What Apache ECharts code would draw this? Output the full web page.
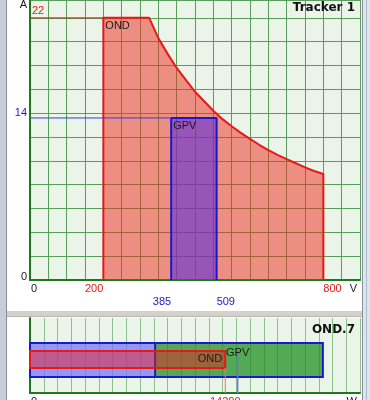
<!DOCTYPE html>
<html><head><meta charset="utf-8">
<script src="https://cdn.jsdelivr.net/npm/echarts@6/dist/echarts.min.js"></script>
<style>html,body{margin:0;padding:0;background:#fff}#c{width:370px;height:400px}</style>
</head><body><div id="c"></div>
<script>
// ---- Top chart: OND operating envelope (V, A) ----
const ondVoltage = [200, 200, 325, 350, 375, 400, 425, 450, 475, 500, 525, 550, 575, 600, 625, 650, 675, 700, 725, 750, 775, 800, 800];
const ondCurrent = [0, 22, 22, 20.3, 19.0, 17.8, 16.8, 15.8, 15.0, 14.2, 13.5, 12.9, 12.35, 11.85, 11.35, 10.9, 10.5, 10.15, 9.8, 9.45, 9.15, 8.9, 0];
// ---- GPV operating window (V, A) ----
const gpvVoltage = [385, 385, 509, 509];
const gpvCurrent = [0, 13.6, 13.6, 0];
// ---- tick labels ----
const xTickValues = [0, 200, 385, 509, 800];
const xTickLabels = ['0', '200', '385', '509', '800'];
const yTickValues = [0, 13.6, 22];
const yTickLabels = ['0', '14', '22'];
const xUnit = 'V';
const yUnit = 'A';
// ---- Bottom chart: power comparison (W) ----
const gpvPowerSplit = 9100;
const gpvPowerMax = 21300;
const ondPowerMax = 14200;
const gpvPowerNominal = 15100;
const powerTickValues = [0, 14200];
const powerTickLabels = ['0', '14200'];
const powerUnit = 'W';
const seriesNames = ['OND', 'GPV'];

// ---- styles ----
const RED = '#e81818', BLUE = '#1818d0', DARK = '#1a1a1a';
const FONT = 'Liberation Sans';
const xTickStyle = [
  {color: DARK, align: 'left', dx: 1, row: 0},
  {color: RED, align: 'right', dx: 0, row: 0},
  {color: BLUE, align: 'right', dx: 0, row: 1},
  {color: BLUE, align: 'left', dx: 0, row: 1},
  {color: RED, align: 'left', dx: 0, row: 0}
];
const yTickStyle = [
  {color: DARK, align: 'right', dx: -3, dy: 2},
  {color: BLUE, align: 'right', dx: -3, dy: 1},
  {color: RED, align: 'left', dx: 2, dy: -1}
];
const powerTickStyle = [
  {color: DARK, align: 'left', dx: 1},
  {color: RED, align: 'center', dx: 0}
];

function txt(x, y, s, color, align, va, size, weight) {
  return {type: 'text', x: x, y: y, style: {text: s, fill: color, align: align, verticalAlign: va,
    fontSize: size || 11, fontFamily: FONT, fontWeight: weight || 'normal'}};
}

const chart = echarts.init(document.getElementById('c'), null, {renderer: 'canvas'});
const axisGreen = '#1d7a1d';
const topMaxY = 23.5, topMaxX = 900, powerMaxX = 24000;

chart.setOption({
  animation: false,
  backgroundColor: '#ffffff',
  title: [
    {text: 'Tracker 1', right: 15, top: 2, padding: 0,
     textStyle: {fontFamily: 'DejaVu Sans', fontWeight: 'bold', fontSize: 12, color: '#111'}},
    {text: 'OND.7', right: 15, top: 324, padding: 0,
     textStyle: {fontFamily: 'DejaVu Sans', fontWeight: 'bold', fontSize: 12, color: '#111'}}
  ],
  graphic: [
    {type: 'rect', left: 0, top: 0, shape: {width: 6, height: 400}, style: {fill: '#c6ced8'}, silent: true},
    {type: 'rect', left: 6, top: 0, shape: {width: 1, height: 400}, style: {fill: '#858d96'}, silent: true},
    {type: 'rect', left: 362, top: 0, shape: {width: 8, height: 400}, style: {fill: '#dfe5ec'}, silent: true},
    {type: 'rect', left: 362, top: 0, shape: {width: 1, height: 400}, style: {fill: '#8a9098'}, silent: true},
    {type: 'rect', left: 366, top: 0, shape: {width: 1, height: 400}, style: {fill: '#a8bcd6'}, silent: true},
    {type: 'rect', left: 7, top: 311, shape: {width: 355, height: 5}, style: {fill: '#d4d1cc'}, silent: true},
    {type: 'rect', left: 7, top: 316, shape: {width: 355, height: 1}, style: {fill: '#b8b5b0'}, silent: true}
  ],
  grid: [
    {left: 30, top: 0, width: 330, height: 280, show: true, backgroundColor: '#ebf4e9', borderWidth: 0, outerBoundsMode: 'none'},
    {left: 30, top: 318, width: 330, height: 75, show: true, backgroundColor: '#ebf4e9', borderWidth: 0, outerBoundsMode: 'none'}
  ],
  xAxis: [
    {type: 'value', gridIndex: 0, min: 0, max: topMaxX, interval: 50,
     axisLine: {show: true, lineStyle: {color: axisGreen, width: 2}},
     axisTick: {show: false}, axisLabel: {show: false},
     splitLine: {show: true, lineStyle: {color: '#5a9c5a', width: 1}}},
    {type: 'value', gridIndex: 1, min: 0, max: powerMaxX, interval: 1000,
     axisLine: {show: true, lineStyle: {color: axisGreen, width: 2}},
     axisTick: {show: false}, axisLabel: {show: false},
     splitLine: {show: true, lineStyle: {color: '#8fbf8f', width: 1}}}
  ],
  yAxis: [
    {type: 'value', gridIndex: 0, min: 0, max: topMaxY, interval: 2,
     axisLine: {show: true, lineStyle: {color: axisGreen, width: 2}},
     axisTick: {show: false}, axisLabel: {show: false},
     splitLine: {show: true, lineStyle: {color: '#5a9c5a', width: 1}}},
    {type: 'value', gridIndex: 1, min: 0, max: 1,
     axisLine: {show: true, lineStyle: {color: axisGreen, width: 2}},
     axisTick: {show: false}, axisLabel: {show: false}, splitLine: {show: false}}
  ],
  series: [
    {name: seriesNames[0], type: 'line', xAxisIndex: 0, yAxisIndex: 0, symbol: 'none', z: 2,
     data: ondVoltage.map((v, i) => [v, ondCurrent[i]]),
     lineStyle: {color: RED, width: 2, join: 'round'}, areaStyle: {color: 'rgba(240,40,30,0.5)', opacity: 1}},
    {name: seriesNames[1], type: 'line', xAxisIndex: 0, yAxisIndex: 0, symbol: 'none', z: 3,
     data: gpvVoltage.map((v, i) => [v, gpvCurrent[i]]),
     lineStyle: {color: BLUE, width: 2}, areaStyle: {color: 'rgba(93,47,220,0.6)', opacity: 1}},
    {type: 'line', xAxisIndex: 0, yAxisIndex: 0, symbol: 'none', z: 3,
     data: [[0, Math.max(...ondCurrent)], [ondVoltage[0], Math.max(...ondCurrent)]],
     lineStyle: {color: RED, width: 1}},
    {type: 'line', xAxisIndex: 0, yAxisIndex: 0, symbol: 'none', z: 3,
     data: [[0, Math.max(...gpvCurrent)], [gpvVoltage[0], Math.max(...gpvCurrent)]],
     lineStyle: {color: '#3a3ae0', width: 1}},
    // top chart labels
    {type: 'custom', xAxisIndex: 0, yAxisIndex: 0, clip: false, silent: true, z: 10,
     data: [[0, 0]],
     renderItem: function (params, api) {
       const ch = [];
       xTickValues.forEach((v, i) => {
         const p = api.coord([v, 0]); const st = xTickStyle[i];
         ch.push(txt(p[0] + st.dx, p[1] + (st.row ? 16 : 3), xTickLabels[i], st.color, st.align, 'top'));
       });
       yTickValues.forEach((v, i) => {
         const p = api.coord([0, v]); const st = yTickStyle[i];
         ch.push(txt(p[0] + st.dx, p[1] + st.dy, yTickLabels[i], st.color, st.align, 'bottom'));
       });
       const pu = api.coord([topMaxX, 0]);
       ch.push(txt(pu[0] - 3, pu[1] + 3, xUnit, DARK, 'right', 'top'));
       const pa = api.coord([0, topMaxY]);
       ch.push(txt(pa[0] - 3, pa[1] - 1, yUnit, DARK, 'right', 'top'));
       const po = api.coord([ondVoltage[1], ondCurrent[1]]);
       ch.push(txt(po[0] + 2, po[1] + 3, seriesNames[0], DARK, 'left', 'top'));
       const pg = api.coord([gpvVoltage[1], gpvCurrent[1]]);
       ch.push(txt(pg[0] + 2, pg[1] + 3, seriesNames[1], DARK, 'left', 'top'));
       return {type: 'group', children: ch};
     }},
    // bottom power chart
    {type: 'custom', xAxisIndex: 1, yAxisIndex: 1, clip: false, silent: true, z: 5,
     data: [[0, 0]],
     renderItem: function (params, api) {
       const c = (x, y) => api.coord([x, y]);
       const gB = c(0, 0.213), gT = c(gpvPowerMax, 0.667), gS = c(gpvPowerSplit, 0);
       const oB = c(0, 0.333), oT = c(ondPowerMax, 0.56);
       const base = c(0, 0);
       const nom = c(gpvPowerNominal, 0.573);
       const gh = gB[1] - gT[1], oh = oB[1] - oT[1];
       const ch = [
         {type: 'rect', shape: {x: gB[0], y: gT[1], width: gS[0] - gB[0], height: gh}, style: {fill: 'rgba(114,109,250,0.7)'}},
         {type: 'rect', shape: {x: gS[0], y: gT[1], width: gT[0] - gS[0], height: gh}, style: {fill: 'rgba(20,138,20,0.7)'}},
         {type: 'line', shape: {x1: gS[0], y1: gT[1], x2: gS[0], y2: gB[1]}, style: {stroke: '#2020b0', lineWidth: 2}},
         {type: 'rect', shape: {x: gB[0], y: gT[1], width: gT[0] - gB[0], height: gh}, style: {fill: 'none', stroke: BLUE, lineWidth: 2}},
         {type: 'rect', shape: {x: oB[0], y: oT[1], width: oT[0] - oB[0], height: oh}, style: {fill: 'rgba(230,30,40,0.5)', stroke: RED, lineWidth: 2}},
         {type: 'line', shape: {x1: oT[0], y1: oB[1], x2: oT[0], y2: base[1]}, style: {stroke: '#f07070', lineWidth: 1}},
         {type: 'line', shape: {x1: nom[0], y1: nom[1], x2: nom[0], y2: base[1]}, style: {stroke: '#6a7ae0', lineWidth: 1.5}},
         txt(oT[0] - 3, (oT[1] + oB[1]) / 2 - 1, seriesNames[0], DARK, 'right', 'middle'),
         txt(nom[0], gT[1] + 15, seriesNames[1], DARK, 'center', 'bottom')
       ];
       powerTickValues.forEach((v, i) => {
         const p = c(v, 0); const st = powerTickStyle[i];
         ch.push(txt(p[0] + st.dx, p[1] + 3, powerTickLabels[i], st.color, st.align, 'top'));
       });
       const pu = c(powerMaxX, 0);
       ch.push(txt(pu[0] - 3, pu[1] + 3, powerUnit, DARK, 'right', 'top'));
       return {type: 'group', children: ch};
     }}
  ]
});
</script></body></html>
